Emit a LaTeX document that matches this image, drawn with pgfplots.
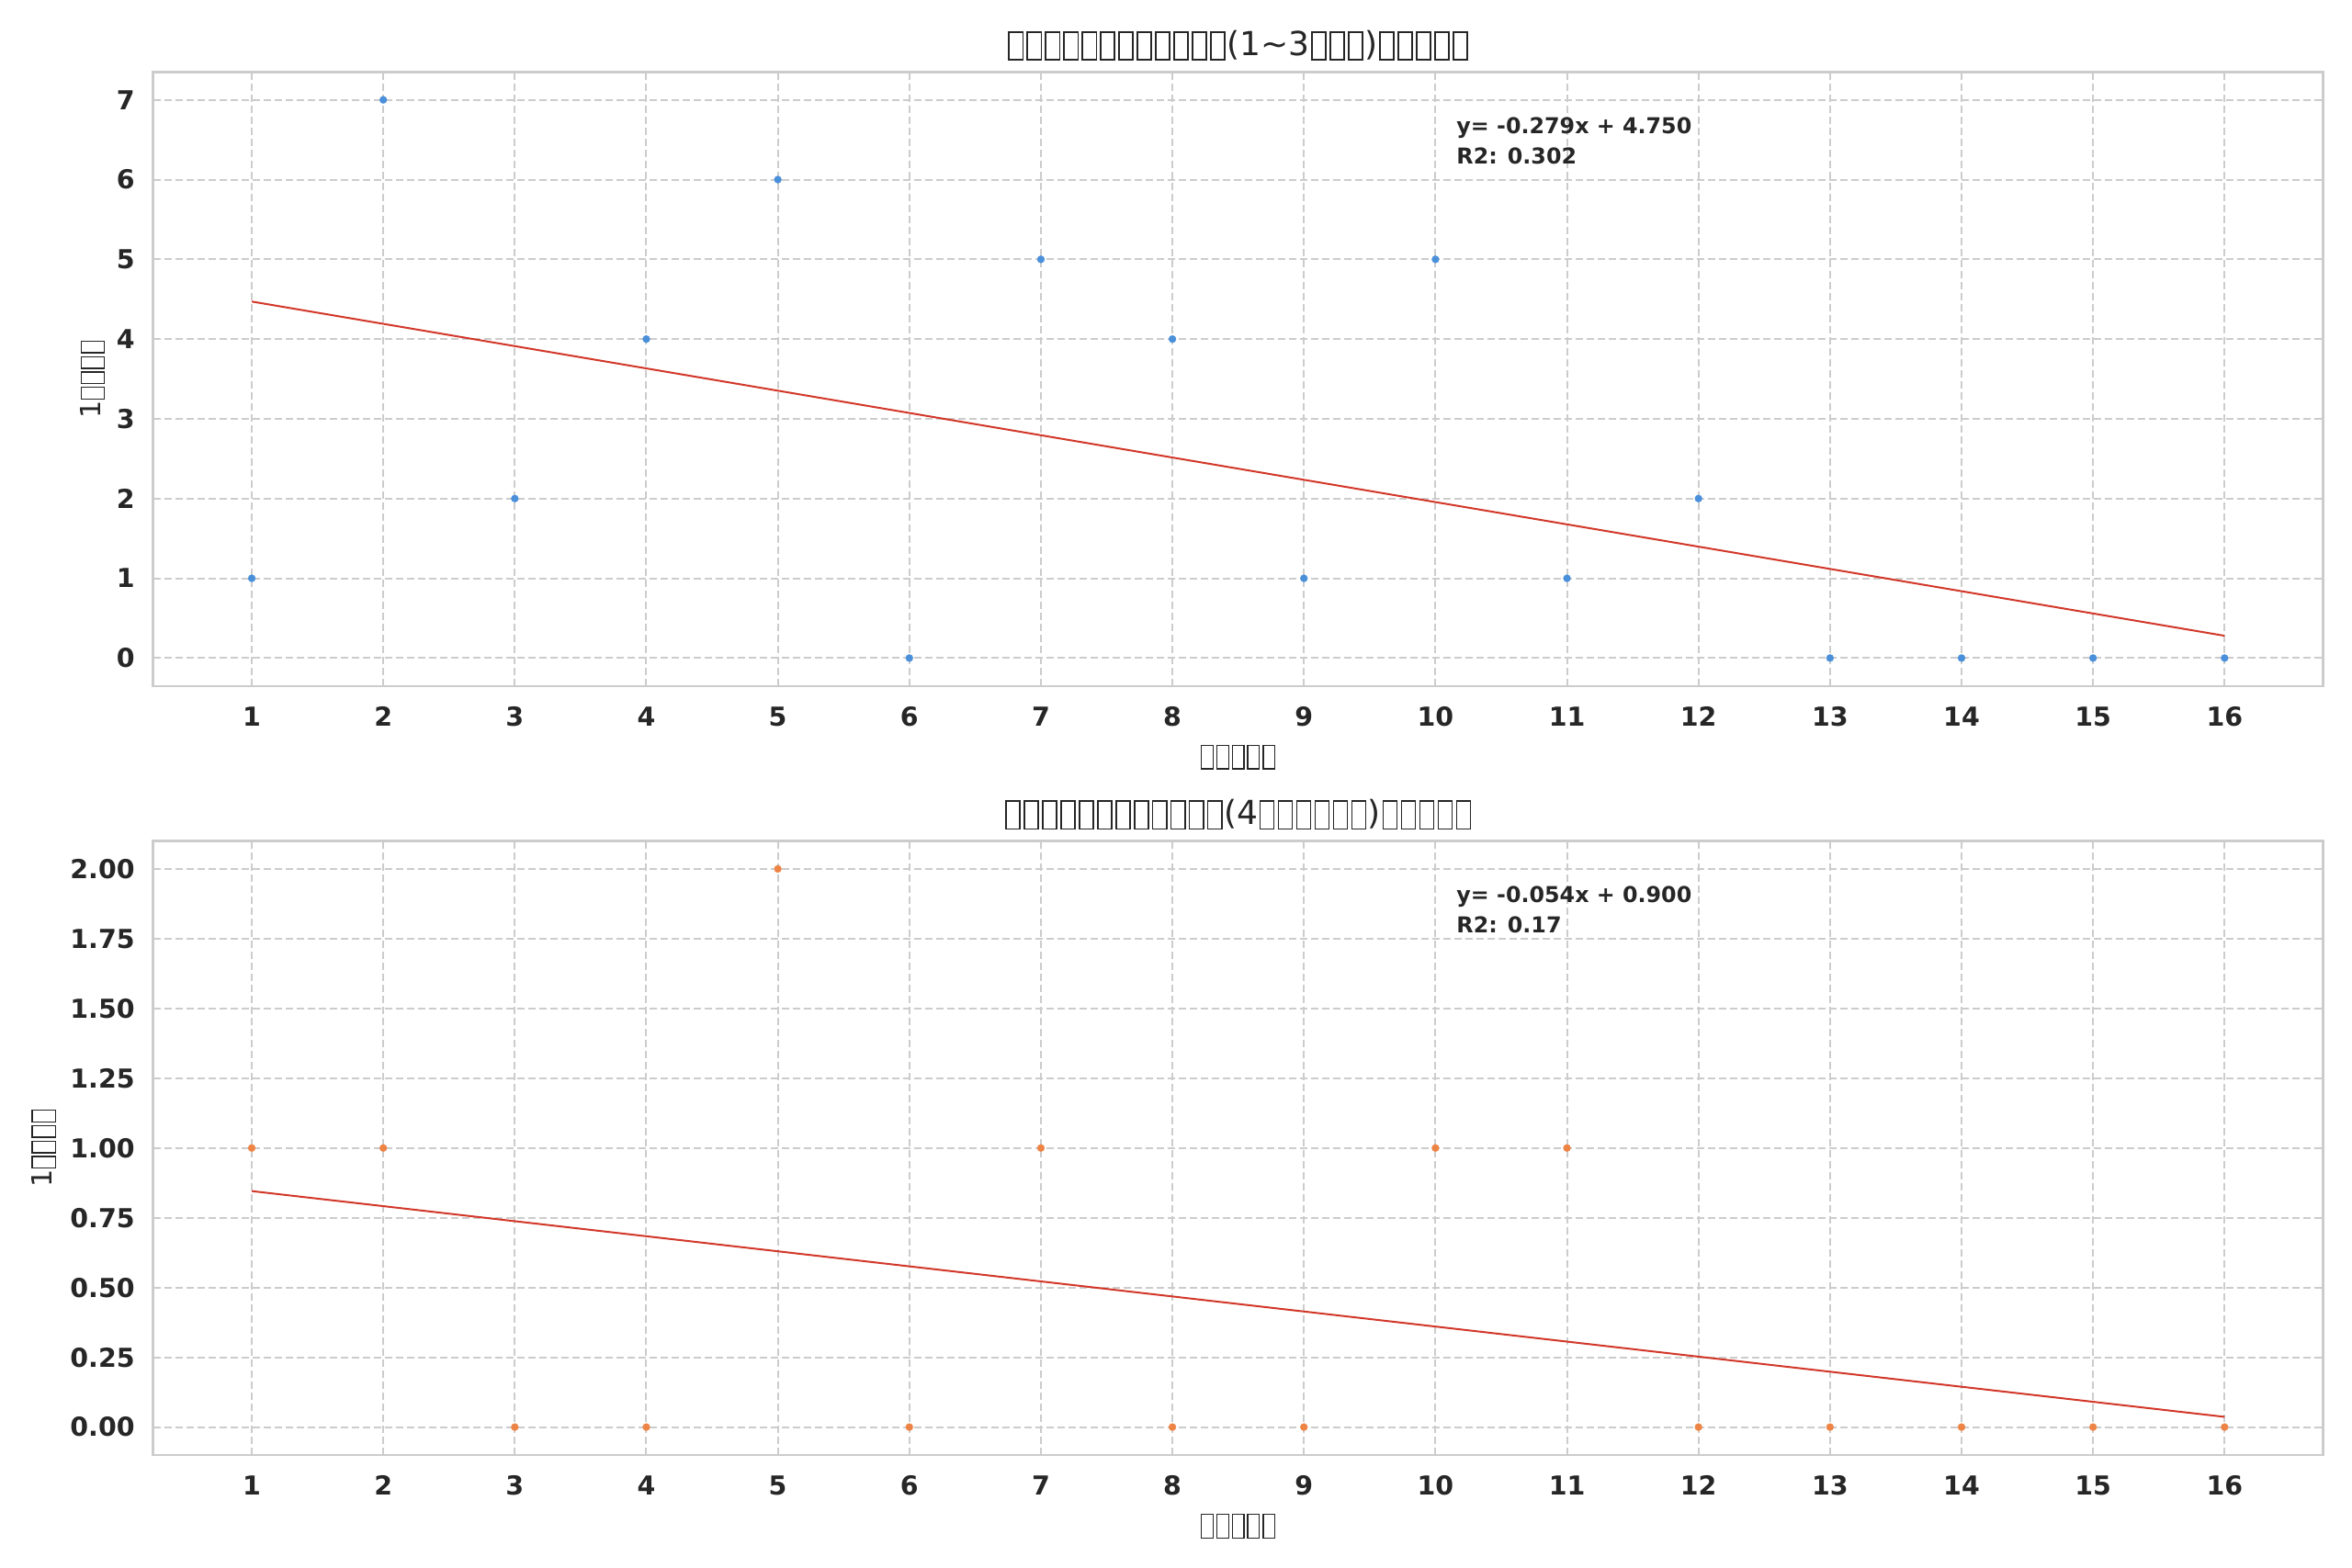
\documentclass[border=0pt]{standalone}
\usepackage{fontspec}
\setmainfont{DejaVu Sans}
\usepackage{pgfplots}
\pgfplotsset{compat=1.18}
\definecolor{gridc}{HTML}{CCCCCC}
\definecolor{txt}{HTML}{262626}
\definecolor{ptblue}{HTML}{4A8FDA}
\definecolor{ptorange}{HTML}{ED8445}
\definecolor{fitred}{HTML}{D2382A}
\newcommand\tofu{\kern0.045em{\setlength\fboxsep{0pt}\setlength\fboxrule{0.045em}\raisebox{-0.11em}{\fbox{\rule{0pt}{0.8em}\rule{0.375em}{0pt}}}}\kern0.045em}
\newcommand\tofuv{\tofu\tofu\tofu\tofu\tofu}
\tikzset{ann/.style={anchor=base west, inner sep=0pt, font=\fontsize{10.7}{12}\selectfont\bfseries, text=txt}}
\pgfplotsset{
  myax/.style={
    width=1062.9pt, height=300.8pt, scale only axis,
    anchor=south west,
    xmin=0.25, xmax=16.75,
    xtick={1,...,16},
    grid=major,
    major grid style={gridc, line width=0.9pt, dash pattern=on 3.7pt off 1.7pt},
    axis line style={gridc, line width=1.1pt},
    major tick length=0pt,
    tick label style={font=\fontsize{12.8}{14}\selectfont\bfseries, text=txt},
    /pgf/number format/assume math mode=true,
    xticklabel style={yshift=-6.6pt},
    yticklabel style={xshift=-5.5pt},
    title style={at={(axis description cs:0.5,1.023)}, anchor=center, font=\fontsize{16.2}{19}\selectfont, text=txt},
    xlabel style={at={(axis description cs:0.5,-0.116)}, anchor=center, font=\fontsize{13.6}{15}\selectfont, text=txt},
    ylabel style={anchor=center, font=\fontsize{13.6}{15}\selectfont, text=txt},
    xlabel={\tofuv},
    ylabel={1\tofu\tofu\tofu\tofu},
  },
}
\begin{document}
\begin{tikzpicture}
\path[use as bounding box] (0,0) rectangle (1152pt,768.15pt);
% top panel
\begin{axis}[myax, at={(75pt,432.1pt)},
  ymin=-0.35, ymax=7.35, ytick={0,...,7},
  title={\tofuv\tofuv\tofu\tofu(1\textasciitilde3\tofu\tofu\tofu)\tofuv},
  ylabel style={at={(axis description cs:-0.0278,0.5)}},
]
\addplot[only marks, mark=*, mark size=1.8pt, color=ptblue, mark options={fill=ptblue, draw=ptblue, line width=0.1pt}] coordinates {
(1,1) (2,7) (3,2) (4,4) (5,6) (6,0) (7,5) (8,4) (9,1) (10,5) (11,1) (12,2) (13,0) (14,0) (15,0) (16,0)
};
\addplot[fitred, line width=0.9pt, mark=none] coordinates {(1,4.4706) (16,0.2794)};
\node[ann] at (axis description cs:0.6005,0.8998) {y= -0.279x + 4.750};
\node[ann] at (axis description cs:0.6005,0.8504) {R2: 0.302};
\end{axis}
% bottom panel
\begin{axis}[myax, at={(75pt,55.35pt)},
  ymin=-0.1, ymax=2.1, ytick={0,0.25,...,2},
  yticklabel style={/pgf/number format/.cd, fixed, fixed zerofill, precision=2},
  title={\tofuv\tofuv\tofu\tofu(4\tofuv\tofu)\tofuv},
  ylabel style={at={(axis description cs:-0.0503,0.5)}},
]
\addplot[only marks, mark=*, mark size=1.8pt, color=ptorange, mark options={fill=ptorange, draw=ptorange, line width=0.1pt}] coordinates {
(1,1) (2,1) (3,0) (4,0) (5,2) (6,0) (7,1) (8,0) (9,0) (10,1) (11,1) (12,0) (13,0) (14,0) (15,0) (16,0)
};
\addplot[fitred, line width=0.9pt, mark=none] coordinates {(1,0.8456) (16,0.0367)};
\node[ann] at (axis description cs:0.6005,0.8998) {y= -0.054x + 0.900};
\node[ann] at (axis description cs:0.6005,0.8504) {R2: 0.17};
\end{axis}
\end{tikzpicture}
\end{document}
